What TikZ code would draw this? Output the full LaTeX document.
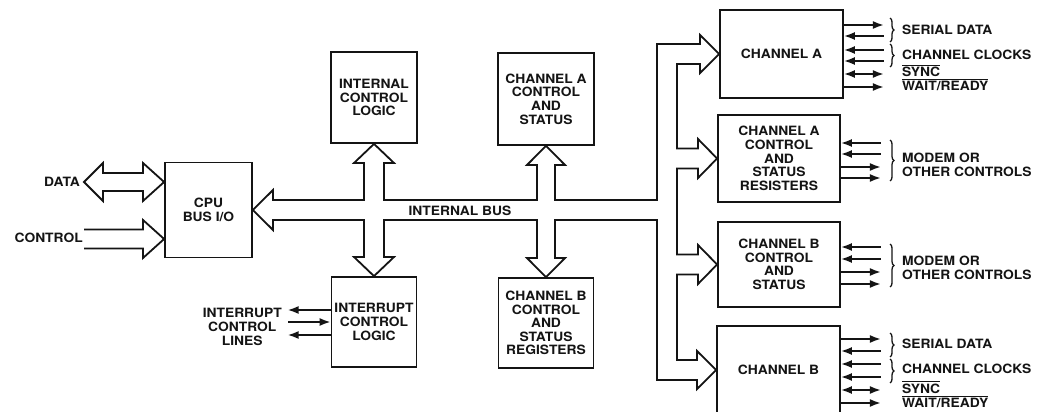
\documentclass[tikz,border=0pt]{standalone}
\usepackage{fontspec}
\setmainfont{TeX Gyre Heros}[FakeStretch=1.08]
\usetikzlibrary{arrows.meta,decorations.pathreplacing}
\definecolor{inkBlack}{RGB}{20,20,20}
\newcommand{\ovbar}[1]{\leavevmode\vbox{\hrule height 1.1pt\kern1.3pt\hbox{#1}}}

\begin{document}
\begin{tikzpicture}[x=1pt,y=-1pt,
    blk/.style={draw=inkBlack, line width=1.8pt, align=center, inner sep=1pt, text=inkBlack,
        font=\fontsize{12.8}{13.6}\selectfont\bfseries},
    lbl/.style={text=inkBlack, inner sep=0pt, align=left,
        font=\fontsize{12.8}{14.4}\selectfont\bfseries},
    sigout/.style={draw=inkBlack, line width=1.8pt, -{Latex[length=11pt,width=8pt]}},
    sigin/.style={draw=inkBlack, line width=1.8pt, {Latex[length=11pt,width=8pt]}-},
    sigboth/.style={draw=inkBlack, line width=1.8pt, {Latex[length=11pt,width=8pt]}-{Latex[length=11pt,width=8pt]}},
    fat/.style={draw=inkBlack, line width=1.8pt, line join=miter},
    brc/.style={draw=inkBlack, decorate, decoration={brace,amplitude=4pt}, line width=1.3pt}]

    \useasboundingbox (0,0) rectangle (1042,412);
    \fill[white] (0,0) rectangle (1042,412);

    % blocks
    \node[blk, minimum width=87pt, minimum height=95pt] (cpu) at (208.5,210) {CPU\\BUS I/O};
    \node[blk, minimum width=86pt, minimum height=91pt] (icl) at (374,97.5) {INTERNAL\\CONTROL\\LOGIC};
    \node[blk, minimum width=96pt, minimum height=92pt] (cas) at (546,99) {CHANNEL A\\CONTROL\\AND\\STATUS};
    \node[blk, minimum width=85pt, minimum height=90pt] (intl) at (374,322) {INTERRUPT\\CONTROL\\LOGIC};
    \node[blk, minimum width=95pt, minimum height=90pt] (cbs) at (546,323) {CHANNEL B\\CONTROL\\AND\\STATUS\\REGISTERS};

    \node[blk, minimum width=123pt, minimum height=88pt] (cha) at (781.5,54) {CHANNEL A};
    \node[blk, minimum width=122pt, minimum height=87pt] (char) at (779,158.5) {CHANNEL A\\CONTROL\\AND\\STATUS\\RESISTERS};
    \node[blk, minimum width=122pt, minimum height=85pt] (cbcs) at (779,264.5) {CHANNEL B\\CONTROL\\AND\\STATUS};
    \node[blk, minimum width=123pt, minimum height=88pt] (chb) at (778.5,370) {CHANNEL B};

    % internal bus
    \draw[fat] (cpu.east) -- (273,190) -- (273,200) -- (364,200) -- (364,163) -- (354,163)
        -- (icl.south) -- (394,163) -- (384,163) -- (384,200) -- (537,200) -- (537,165)
        -- (527,165) -- (cas.south) -- (565,165) -- (555,165) -- (555,200) -- (657,200)
        -- (657,44) -- (700,44) -- (700,35) -- (cha.west) -- (700,73) -- (700,64)
        -- (677,64) -- (677,148.5) -- (698,148.5) -- (698,139) -- (char.west) -- (698,178)
        -- (698,168.5) -- (677,168.5) -- (677,254.5) -- (698,254.5) -- (698,245)
        -- (cbcs.west) -- (698,284) -- (698,274.5) -- (677,274.5) -- (677,360)
        -- (697,360) -- (697,351) -- (chb.west) -- (697,389) -- (697,380) -- (657,380)
        -- (657,220) -- (555,220) -- (555,258) -- (565,258) -- (cbs.north) -- (527,258)
        -- (537,258) -- (537,220) -- (384,220) -- (384,257) -- (394,257) -- (intl.north)
        -- (354,257) -- (364,257) -- (364,220) -- (273,220) -- (273,230) -- cycle;
    \node[lbl] (ibus) at (460,211) {INTERNAL BUS};

    % data and control into the cpu
    \node[lbl, anchor=east] (data) at (80,182) {DATA};
    \node[lbl, anchor=east] (ctrl) at (83,238) {CONTROL};
    \draw[fat] (84,182) -- (103,163) -- (103,173) -- (143,173) -- (143,163) -- (cpu.west |- 0,182)
        -- (143,201) -- (143,191) -- (103,191) -- (103,201) -- cycle;
    \draw[fat] (84,229.5) -- (143,229.5) -- (143,220) -- (cpu.west |- 0,239) -- (143,258)
        -- (143,248.5) -- (84,248.5);

    % interrupt lines
    \draw[sigout] (intl.west |- 0,310) -- ++(-43,0);
    \draw[sigin] (intl.west |- 0,322) -- ++(-43,0);
    \draw[sigout] (intl.west |- 0,335) -- ++(-43,0);
    \node[lbl, anchor=east, align=center] (irq) at (282,327) {INTERRUPT\\CONTROL\\LINES};

    % channel A lines
    \draw[sigout] (cha.east |- 0,25) -- ++(40,0);
    \draw[sigin] (cha.east |- 0,36) -- ++(40,0);
    \draw[sigin] (cha.east |- 0,50) -- ++(40,0);
    \draw[sigin] (cha.east |- 0,61) -- ++(40,0);
    \draw[sigboth] (cha.east |- 0,74) -- ++(40,0);
    \draw[sigout] (cha.east |- 0,87) -- ++(40,0);
    \draw[brc] (890,18) -- (890,42);
    \draw[brc] (890,44) -- (890,67);
    \node[lbl, anchor=west] (sdA) at (902,30) {SERIAL DATA};
    \node[lbl, anchor=west] (ckA) at (902,55) {CHANNEL CLOCKS};
    \node[lbl, anchor=base west] (syA) at (902,77) {\ovbar{SYNC}};
    \node[lbl, anchor=base west] (wrA) at (902,91) {\ovbar{WAIT/READY}};

    % channel A modem lines
    \draw[sigin] (char.east |- 0,143) -- ++(40,0);
    \draw[sigin] (char.east |- 0,154) -- ++(40,0);
    \draw[sigout] (char.east |- 0,167) -- ++(40,0);
    \draw[sigout] (char.east |- 0,178) -- ++(40,0);
    \draw[brc] (890,140) -- (890,181);
    \node[lbl, anchor=west] (mdA) at (902,165) {MODEM OR\\OTHER CONTROLS};

    % channel B modem lines
    \draw[sigin] (cbcs.east |- 0,247) -- ++(40,0);
    \draw[sigin] (cbcs.east |- 0,259) -- ++(40,0);
    \draw[sigout] (cbcs.east |- 0,272) -- ++(40,0);
    \draw[sigout] (cbcs.east |- 0,284) -- ++(40,0);
    \draw[brc] (890,244) -- (890,287);
    \node[lbl, anchor=west] (mdB) at (902,268) {MODEM OR\\OTHER CONTROLS};

    % channel B lines
    \draw[sigout] (chb.east |- 0,339) -- ++(40,0);
    \draw[sigin] (chb.east |- 0,351) -- ++(40,0);
    \draw[sigin] (chb.east |- 0,364) -- ++(40,0);
    \draw[sigin] (chb.east |- 0,377) -- ++(40,0);
    \draw[sigboth] (chb.east |- 0,390) -- ++(40,0);
    \draw[sigout] (chb.east |- 0,403) -- ++(40,0);
    \draw[brc] (890,333) -- (890,357);
    \draw[brc] (890,359) -- (890,383);
    \node[lbl, anchor=west] (sdB) at (902,344) {SERIAL DATA};
    \node[lbl, anchor=west] (ckB) at (902,369) {CHANNEL CLOCKS};
    \node[lbl, anchor=base west] (syB) at (902,393) {\ovbar{SYNC}};
    \node[lbl, anchor=base west] (wrB) at (902,407.5) {\ovbar{WAIT/READY}};
\end{tikzpicture}
\end{document}
